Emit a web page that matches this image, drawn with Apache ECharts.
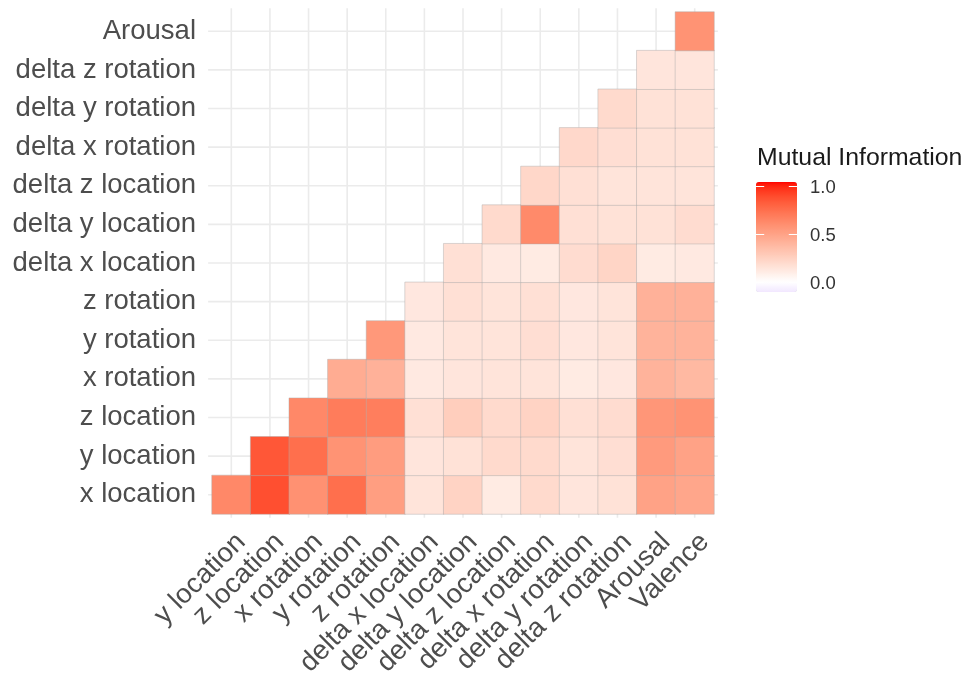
<!DOCTYPE html>
<html>
<head>
<meta charset="utf-8">
<script src="https://cdn.jsdelivr.net/npm/echarts@6/dist/echarts.min.js"></script>
<style>
  html, body { margin: 0; padding: 0; background: #ffffff; }
  #chart { width: 968px; height: 677px; }
</style>
</head>
<body>
<div id="chart"></div>
<script>
// Category labels
const xCats = ['y location', 'z location', 'x rotation', 'y rotation', 'z rotation',
  'delta x location', 'delta y location', 'delta z location', 'delta x rotation',
  'delta y rotation', 'delta z rotation', 'Arousal', 'Valence'];
const yCats = ['x location', 'y location', 'z location', 'x rotation', 'y rotation',
  'z rotation', 'delta x location', 'delta y location', 'delta z location',
  'delta x rotation', 'delta y rotation', 'delta z rotation', 'Arousal'];

// Mutual information per row; row k starts at column k (lower triangle)
const rowXLocation  = [0.63, 0.88, 0.59, 0.75, 0.52, 0.15, 0.24, 0.11, 0.20, 0.14, 0.16, 0.50, 0.48];
const rowYLocation  = [0.85, 0.75, 0.58, 0.53, 0.14, 0.16, 0.20, 0.20, 0.15, 0.18, 0.54, 0.50];
const rowZLocation  = [0.63, 0.69, 0.68, 0.17, 0.27, 0.20, 0.24, 0.17, 0.19, 0.56, 0.58];
const rowXRotation  = [0.45, 0.42, 0.12, 0.14, 0.15, 0.15, 0.11, 0.13, 0.41, 0.38];
const rowYRotation  = [0.55, 0.12, 0.15, 0.15, 0.18, 0.13, 0.15, 0.41, 0.41];
const rowZRotation  = [0.13, 0.17, 0.15, 0.17, 0.13, 0.15, 0.42, 0.42];
const rowDxLocation = [0.17, 0.12, 0.11, 0.19, 0.23, 0.11, 0.12];
const rowDyLocation = [0.20, 0.62, 0.17, 0.16, 0.16, 0.19];
const rowDzLocation = [0.22, 0.17, 0.15, 0.15, 0.15];
const rowDxRotation = [0.21, 0.18, 0.16, 0.16];
const rowDyRotation = [0.20, 0.16, 0.16];
const rowDzRotation = [0.14, 0.14];
const rowArousal    = [0.58];

// Colour scale limits and legend breaks
const scaleMin = -0.104;
const scaleMax = 1.042;
const legendBreaks = [0.0, 0.5, 1.0];
const legendTitle = 'Mutual Information';

const rows = [rowXLocation, rowYLocation, rowZLocation, rowXRotation, rowYRotation,
  rowZRotation, rowDxLocation, rowDyLocation, rowDzLocation, rowDxRotation,
  rowDyRotation, rowDzRotation, rowArousal];

const heatData = [];
rows.forEach(function (row, r) {
  row.forEach(function (v, i) {
    heatData.push([r + i, r, v]);
  });
});

// --- diverging gradient (blue - white - red) interpolated in CIE Lab ---
function toLin(c) { c /= 255; return c <= 0.04045 ? c / 12.92 : Math.pow((c + 0.055) / 1.055, 2.4); }
function toSrgb(c) { c = Math.max(0, Math.min(1, c)); return c <= 0.0031308 ? 12.92 * c : 1.055 * Math.pow(c, 1 / 2.4) - 0.055; }
const WX = 0.95047, WY = 1.0, WZ = 1.08883;
function rgbToLab(rgb) {
  const r = toLin(rgb[0]), g = toLin(rgb[1]), b = toLin(rgb[2]);
  const X = (0.4124 * r + 0.3576 * g + 0.1805 * b) / WX;
  const Y = (0.2126 * r + 0.7152 * g + 0.0722 * b) / WY;
  const Z = (0.0193 * r + 0.1192 * g + 0.9505 * b) / WZ;
  const f = function (t) { return t > 0.008856 ? Math.cbrt(t) : 7.787 * t + 16 / 116; };
  const fx = f(X), fy = f(Y), fz = f(Z);
  return [116 * fy - 16, 500 * (fx - fy), 200 * (fy - fz)];
}
function labToRgb(lab) {
  const fy = (lab[0] + 16) / 116, fx = fy + lab[1] / 500, fz = fy - lab[2] / 200;
  const inv = function (t) { return t * t * t > 0.008856 ? t * t * t : (t - 16 / 116) / 7.787; };
  const X = WX * inv(fx), Y = WY * inv(fy), Z = WZ * inv(fz);
  const r = 3.2406 * X - 1.5372 * Y - 0.4986 * Z;
  const g = -0.9689 * X + 1.8758 * Y + 0.0415 * Z;
  const b = 0.0557 * X - 0.2040 * Y + 1.0570 * Z;
  return [toSrgb(r), toSrgb(g), toSrgb(b)].map(function (c) { return Math.round(c * 255); });
}
const labLow = rgbToLab([0, 0, 255]);
const labMid = rgbToLab([255, 255, 255]);
const labHigh = rgbToLab([255, 0, 0]);
const halfRange = Math.max(Math.abs(scaleMin), Math.abs(scaleMax));
function colourFor(v) {
  const t = Math.min(1, Math.abs(v) / halfRange);
  const end = v < 0 ? labLow : labHigh;
  const lab = [0, 1, 2].map(function (k) { return labMid[k] + (end[k] - labMid[k]) * t; });
  const c = labToRgb(lab);
  return 'rgb(' + c[0] + ',' + c[1] + ',' + c[2] + ')';
}
const nStops = 80;
const colourStops = [];
for (let k = 0; k <= nStops; k++) {
  colourStops.push(colourFor(scaleMin + (scaleMax - scaleMin) * k / nStops));
}

// --- layout ---
const grid = { left: 212, top: 12, width: 502, height: 502, outerBoundsMode: 'none', containLabel: false };
const bar = { left: 756, top: 182, width: 41, height: 110 };
const axisFont = 'Liberation Sans, Arial, Helvetica, sans-serif';

function breakY(v) {
  return bar.top + bar.height * (scaleMax - v) / (scaleMax - scaleMin);
}

const legendGraphics = [{
  type: 'text',
  left: 757, top: 146,
  style: { text: legendTitle, font: '24.8px ' + axisFont, fill: '#1a1a1a' }
}];
legendBreaks.forEach(function (b) {
  const y = Math.round(breakY(b)) + 0.5;
  legendGraphics.push({
    type: 'line', silent: true, z: 100,
    shape: { x1: bar.left, y1: y, x2: bar.left + bar.width / 5, y2: y },
    style: { stroke: '#ffffff', lineWidth: 1 }
  });
  legendGraphics.push({
    type: 'line', silent: true, z: 100,
    shape: { x1: bar.left + bar.width * 4 / 5, y1: y, x2: bar.left + bar.width, y2: y },
    style: { stroke: '#ffffff', lineWidth: 1 }
  });
  legendGraphics.push({
    type: 'text', silent: true, z: 100,
    x: 810, y: breakY(b) + 1.5,
    style: { text: b.toFixed(1), font: '18.5px ' + axisFont, fill: '#333333', verticalAlign: 'middle' }
  });
});

// grid lines through the category centres, reaching a little past the tiles
function gridLineItem(vertical) {
  return function (params, api) {
    const cs = params.coordSys;
    const p = api.coord([api.value(0), api.value(1)]);
    const size = api.size([1, 1]);
    const ext = vertical ? size[1] * 0.1 : size[0] * 0.1;
    const shape = vertical
      ? { x1: p[0], y1: cs.y - ext, x2: p[0], y2: cs.y + cs.height + ext }
      : { x1: cs.x - ext, y1: p[1], x2: cs.x + cs.width + ext, y2: p[1] };
    return { type: 'line', shape: shape, style: { stroke: '#ebebeb', lineWidth: 1.6 } };
  };
}

const chart = echarts.init(document.getElementById('chart'), null, { renderer: 'canvas' });
chart.setOption({
  backgroundColor: '#ffffff',
  animation: false,
  grid: grid,
  xAxis: {
    type: 'category',
    data: xCats,
    axisLine: { show: false },
    axisTick: { show: false },
    splitLine: { show: false },
    axisLabel: {
      rotate: 45,
      interval: 0,
      margin: 14,
      align: 'right',
      verticalAlign: 'top',
      color: '#4d4d4d',
      fontSize: 27.5,
      fontFamily: axisFont
    }
  },
  yAxis: {
    type: 'category',
    data: yCats,
    axisLine: { show: false },
    axisTick: { show: false },
    splitLine: { show: false },
    axisLabel: {
      interval: 0,
      margin: 16,
      padding: [9, 0, 0, 0],
      color: '#4d4d4d',
      fontSize: 27.5,
      fontFamily: axisFont
    }
  },
  visualMap: {
    type: 'continuous',
    min: scaleMin,
    max: scaleMax,
    calculable: false,
    orient: 'vertical',
    left: bar.left,
    top: bar.top,
    padding: 0,
    itemWidth: bar.width,
    itemHeight: bar.height,
    showLabel: false,
    seriesIndex: 2,
    inRange: { color: colourStops }
  },
  graphic: legendGraphics,
  series: [
    {
      type: 'custom',
      silent: true,
      clip: false,
      z: 1,
      renderItem: gridLineItem(true),
      data: xCats.map(function (c) { return [c, yCats[0]]; })
    },
    {
      type: 'custom',
      silent: true,
      clip: false,
      z: 1,
      renderItem: gridLineItem(false),
      data: yCats.map(function (c) { return [xCats[0], c]; })
    },
    {
      type: 'heatmap',
      z: 2,
      data: heatData,
      itemStyle: { borderColor: 'rgba(170,170,170,0.55)', borderWidth: 0.8 },
      emphasis: { disabled: true },
      label: { show: false }
    }
  ]
});
</script>
</body>
</html>
